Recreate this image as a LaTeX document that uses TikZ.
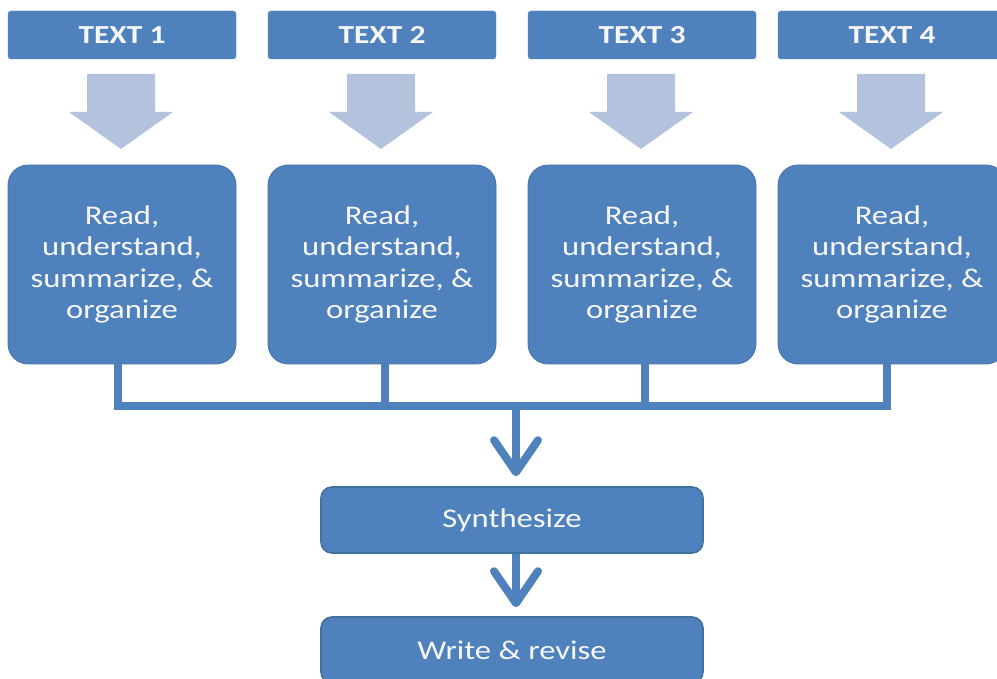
\documentclass[tikz,border=0pt]{standalone}
\usepackage{fontspec}
\setmainfont{Carlito}[FakeStretch=1.21]
\usetikzlibrary{arrows.meta}
\definecolor{boxblue}{HTML}{4F81BD}
\definecolor{edgeblue}{HTML}{41719C}
\definecolor{lightarrow}{HTML}{B3C2DD}
\definecolor{txt}{HTML}{F7F7F7}
\tikzset{
  titlebox/.style={fill=boxblue, draw=boxblue, rounded corners=3pt, minimum width=228pt, minimum height=48pt, inner sep=0pt, text=txt, font=\fontsize{26}{30}\selectfont\bfseries},
  readbox/.style={fill=boxblue, draw=boxblue!90!black, line width=0.8pt, rounded corners=20pt, minimum width=228pt, minimum height=199pt, inner sep=0pt, text=txt, align=center, font=\fontsize{27}{31.5}\selectfont},
  widebox/.style={fill=boxblue, draw=edgeblue, line width=1.6pt, rounded corners=11pt, minimum width=382pt, minimum height=66pt, inner sep=0pt, text=txt, font=\fontsize{27}{31}\selectfont},
  conn/.style={draw=boxblue, line width=8pt},
  chev/.style={conn, -{Straight Barb[length=32pt, width=44pt, round]}},
  blockarrow/.style={fill=lightarrow}
}
\begin{document}
\begin{tikzpicture}[x=1pt, y=-1pt]
\useasboundingbox (0,0) rectangle (997,679);
% title boxes
\node[titlebox] (t1) at (122,35) {TEXT 1};
\node[titlebox] (t2) at (382,35) {TEXT 2};
\node[titlebox] (t3) at (642,35) {TEXT 3};
\node[titlebox] (t4) at (892,35) {TEXT 4};
% block arrows
\foreach \cx in {121,381,641,891} {
  \fill[blockarrow] (\cx-34,74) -- (\cx+34,74) -- (\cx+34,112) -- (\cx+52,112) -- (\cx,149) -- (\cx-52,112) -- (\cx-34,112) -- cycle;
}
% read boxes
\node[readbox] (b1) at (122,264.5) {Read,\\understand,\\summarize, \&\\organize};
\node[readbox] (b2) at (382,264.5) {Read,\\understand,\\summarize, \&\\organize};
\node[readbox] (b3) at (642,264.5) {Read,\\understand,\\summarize, \&\\organize};
\node[readbox] (b4) at (892,264.5) {Read,\\understand,\\summarize, \&\\organize};
% lower boxes
\node[widebox] (syn) at (512,520) {Synthesize};
\node[widebox] (wr) at (512,650) {Write \& revise};
% connectors
\coordinate (hub) at (516,406);
\draw[conn, line join=miter] ([xshift=-4pt]b1.south) -- ([xshift=-4pt]b1.south |- hub) -- ([xshift=-5pt]b4.south |- hub) -- ([xshift=-5pt]b4.south);
\draw[conn] ([xshift=3pt]b2.south) -- ([xshift=3pt]b2.south |- hub);
\draw[conn] ([xshift=3pt]b3.south) -- ([xshift=3pt]b3.south |- hub);
\draw[chev] ([yshift=-4pt]hub) -- ([xshift=4pt,yshift=10pt]syn.north);
\draw[chev] ([xshift=4pt]syn.south) -- ([xshift=4pt,yshift=9pt]wr.north);
\end{tikzpicture}
\end{document}
